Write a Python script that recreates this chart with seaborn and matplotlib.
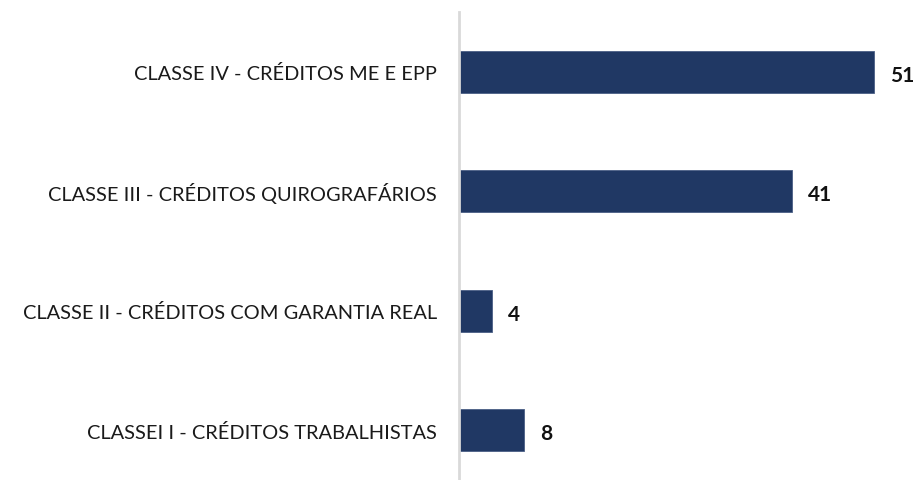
import matplotlib
matplotlib.use("Agg")
import matplotlib.pyplot as plt
import pandas as pd
import seaborn as sns

categories = [
    "CLASSE IV - CRÉDITOS ME E EPP",
    "CLASSE III - CRÉDITOS QUIROGRAFÁRIOS",
    "CLASSE II - CRÉDITOS COM GARANTIA REAL",
    "CLASSEI I - CRÉDITOS TRABALHISTAS",
]
values = [51, 41, 4, 8]

BAR_COLOR = "#203864"
AXIS_COLOR = "#d9d9d9"

sns.set_theme(style="white")
plt.rcParams["font.family"] = ["Lato", "DejaVu Sans"]

df = pd.DataFrame({"classe": categories, "credores": values})

fig = plt.figure(figsize=(9.2, 4.81), dpi=100)
ax = fig.add_axes([459 / 920, 0, 461 / 920, 468 / 481])

sns.barplot(data=df, y="classe", x="credores", orient="h", color=BAR_COLOR,
            width=0.35, edgecolor="#4a5f85", linewidth=0.6, saturation=1, ax=ax)

ax.set_xlim(0, 56.7)
ax.set_ylim(3.416, -0.5)
ax.set_xlabel("")
ax.set_ylabel("")
ax.set_xticks([])
ax.tick_params(axis="y", length=0, pad=16, labelsize=14.4, labelcolor="#1a1a1a")

for side in ["top", "right", "bottom"]:
    ax.spines[side].set_visible(False)
ax.spines["left"].set_color(AXIS_COLOR)
ax.spines["left"].set_linewidth(2)

for i, v in enumerate(values):
    ax.annotate(str(v), (v, i), xytext=(11.5, -2), textcoords="offset points",
                ha="left", va="center", fontsize=15, fontweight="bold", color="#111111")

fig.savefig("out.png", dpi=100)
